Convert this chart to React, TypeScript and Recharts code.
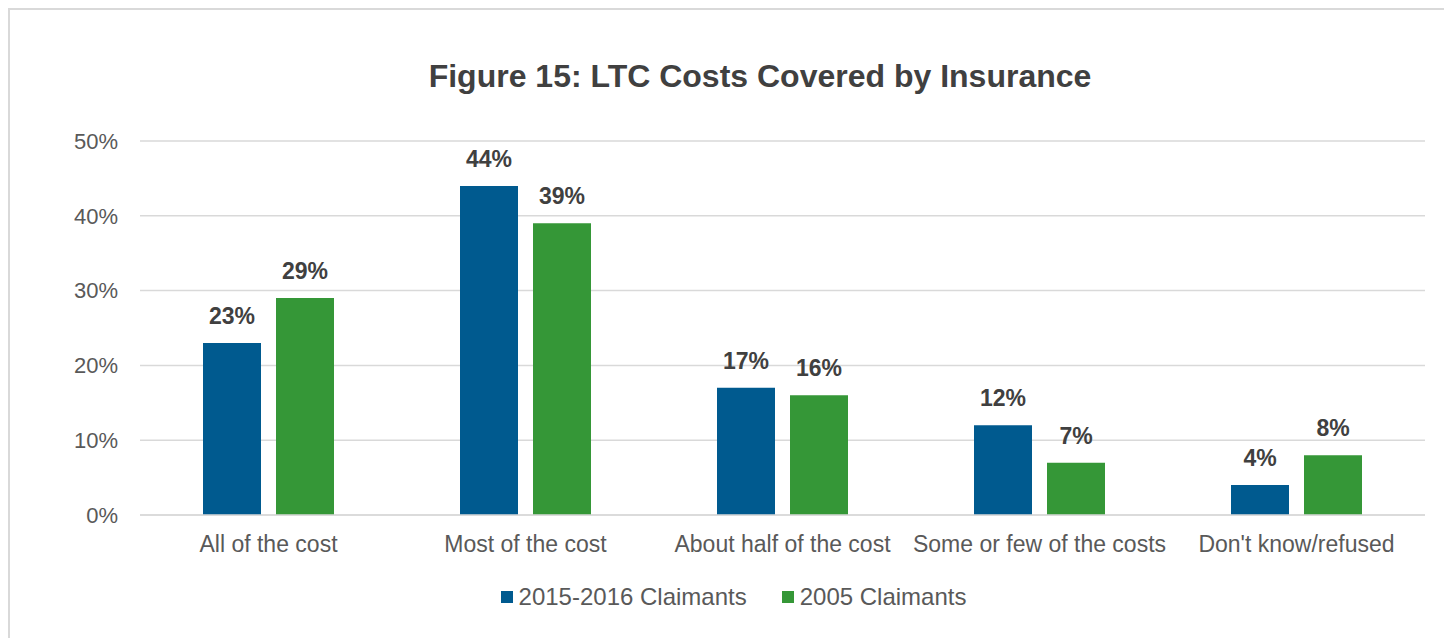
import React from 'react';
import { BarChart, Bar, XAxis, YAxis, CartesianGrid, Legend, LabelList } from 'recharts';

const categories = ['All of the cost', 'Most of the cost', 'About half of the cost', 'Some or few of the costs', "Don't know/refused"];
const claimants2015 = [23, 44, 17, 12, 4];
const claimants2005 = [29, 39, 16, 7, 8];
const yTicks = [0, 10, 20, 30, 40, 50];
const seriesNames = ['2015-2016 Claimants', '2005 Claimants'];
const seriesColors = ['#005A8F', '#359737'];

const data = categories.map((c, i) => ({ name: c, a: claimants2015[i], b: claimants2005[i] }));

const FONT = '"Liberation Sans", Arial, sans-serif';

const LegendContent = () => (
  <div style={{ display: 'flex', justifyContent: 'center', alignItems: 'center', paddingLeft: 11, fontFamily: FONT }}>
    {seriesNames.map((n, i) => (
      <div key={n} style={{ display: 'flex', alignItems: 'center', marginLeft: i === 0 ? 0 : 35 }}>
        <div style={{ width: 12, height: 12, background: seriesColors[i], marginRight: 6 }} />
        <span style={{ fontSize: 24, lineHeight: '28px', color: '#595959' }}>{n}</span>
      </div>
    ))}
  </div>
);

export default function App() {
  return (
    <div style={{ width: 1440, height: 636, border: '2px solid #d9d9d9', boxSizing: 'border-box', position: 'relative', background: '#fff' }}>
      <div style={{ position: 'absolute', left: 250, width: 1000, top: 48, textAlign: 'center', fontFamily: FONT, fontSize: 32, lineHeight: '36px', fontWeight: 700, color: '#404040' }}>
        Figure 15: LTC Costs Covered by Insurance
      </div>
      <div style={{ position: 'absolute', left: 0, top: 0 }}>
        <BarChart width={1436} height={632} data={data} margin={{ top: 131, right: 21, left: 0, bottom: 39 }} barSize={58} barGap={15}>
          <CartesianGrid vertical={false} stroke="#d9d9d9" strokeWidth={1.5} />
          <XAxis dataKey="name" tickLine={false} tickSize={0} tickMargin={21} axisLine={{ stroke: '#d9d9d9', strokeWidth: 1.5 }} height={60} interval={0}
            tick={{ fill: '#595959', fontSize: 23, fontFamily: FONT }} />
          <YAxis width={130} domain={[0, 50]} ticks={yTicks} tickFormatter={(v: number) => `${v}%`} axisLine={false} tickLine={false} tickSize={0} tickMargin={22}
            tick={{ fill: '#595959', fontSize: 22, fontFamily: FONT }} />
          <Legend content={<LegendContent />} wrapperStyle={{ position: 'absolute', left: 0, top: 573, width: 1436 }} />
          <Bar dataKey="a" name={seriesNames[0]} fill={seriesColors[0]} isAnimationActive={false}>
            <LabelList dataKey="a" position="top" offset={19} formatter={(v: number) => `${v}%`} style={{ fill: '#404040', fontSize: 23, fontWeight: 700, fontFamily: FONT }} />
          </Bar>
          <Bar dataKey="b" name={seriesNames[1]} fill={seriesColors[1]} isAnimationActive={false}>
            <LabelList dataKey="b" position="top" offset={19} formatter={(v: number) => `${v}%`} style={{ fill: '#404040', fontSize: 23, fontWeight: 700, fontFamily: FONT }} />
          </Bar>
        </BarChart>
      </div>
    </div>
  );
}
